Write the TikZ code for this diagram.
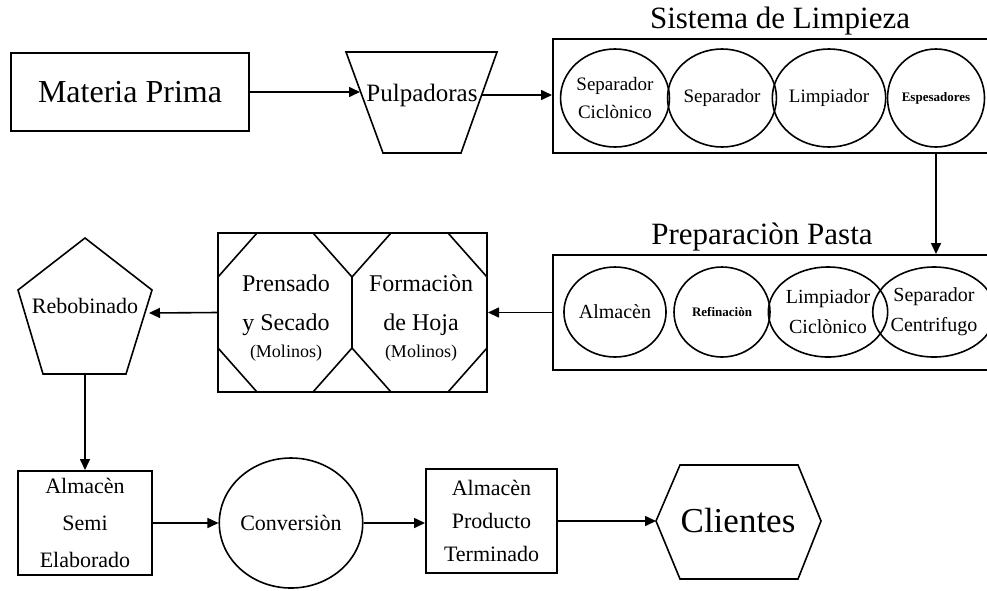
\documentclass[tikz,border=0pt]{standalone}
\usepackage{fontspec}
\setmainfont{Liberation Serif}
\usetikzlibrary{arrows.meta,shapes.geometric,calc}
\def\fs#1#2{\fontsize{#1}{#2}\selectfont}
% octagon inside the mill box: centre, half width, half height, cut
\def\octagon(#1)(#2:#3:#4:#5){\draw[line width=1.6pt] ($(#1)+(-#2+#4,-#3)$) -- ($(#1)+(#2-#4,-#3)$) -- ($(#1)+(#2,-#3+#5)$) -- ($(#1)+(#2,#3-#5)$) -- ($(#1)+(#2-#4,#3)$) -- ($(#1)+(-#2+#4,#3)$) -- ($(#1)+(-#2,#3-#5)$) -- ($(#1)+(-#2,-#3+#5)$) -- cycle;}
\tikzset{
  box/.style={draw, line width=2pt, rectangle, align=center, inner sep=0pt},
  elli/.style={draw, line width=1.6pt, ellipse, align=center, inner sep=0pt},
  outline/.style={draw, line width=1.6pt},
  flow/.style={line width=1.6pt, -{Triangle[length=11pt,width=10pt]}},
}
\begin{document}
\begin{tikzpicture}[x=1pt, y=-1pt]
		\useasboundingbox (0,0) rectangle (987,590);
		
		%%%%% ROW 1 %%%%%
		\node[box, minimum width=238pt, minimum height=78pt, font=\fs{32}{36}] (mp) at (130,92) {Materia Prima};
		
		\draw[outline] (346,52) -- (497,52) -- (461,153) -- (383,153) -- cycle;
		\node[font=\fs{25}{28}] (pulp) at (422,95) {Pulpadoras};
		\coordinate (pulpin) at (360,92);
		\coordinate (pulpout) at (482,95);
		
		\node[box, minimum width=447pt, minimum height=114pt] (limp) at (776.5,96) {};
		\node[font=\fs{31}{34}] (limptitle) at (780,21) {Sistema de Limpieza};
		
		\node[elli, minimum width=97pt, minimum height=98pt, font=\fs{19}{28}] (sl1) at (615,98) {Separador\\Ciclònico};
		\node[elli, minimum width=97pt, minimum height=98pt, font=\fs{19}{28}] (sl2) at (722,98) {Separador};
		\node[elli, minimum width=97pt, minimum height=98pt, font=\fs{19}{28}] (sl3) at (829,98) {Limpiador};
		\node[elli, minimum width=97pt, minimum height=98pt, font=\bfseries\fs{13}{16}] (sl4) at (936,98) {Espesadores};
		
		%%%%% ROW 2 %%%%%
		\node[font=\fs{31}{34}] (preptitle) at (762,237) {Preparaciòn Pasta};
		\node[box, minimum width=447pt, minimum height=115pt] (prep) at (776.5,312.5) {};
		\node[elli, minimum width=96pt, minimum height=90pt, font=\fs{20}{27}] (pp1) at (615,312) {Almacèn};
		\node[elli, minimum width=96pt, minimum height=90pt, font=\bfseries\fs{13}{16}] (pp2) at (722,312) {Refinaciòn};
		\node[elli, minimum width=96pt, minimum height=90pt, font=\fs{20}{30}] (pp3) at (828,312) {Limpiador\\Ciclònico};
		\node[elli, minimum width=96pt, minimum height=90pt, font=\fs{20}{30}] (pp4) at (934,312) {Separador\\Centrifugo};
		
		\node[box, minimum width=269pt, minimum height=159pt] (mol) at (352.5,312.5) {};
		\octagon(285,312.5)(67:79.5:39:44)
		\octagon(419.5,312.5)(67.5:79.5:39:44)
		\node[align=center, font=\fs{24}{39}] (pren) at (286,318) {Prensado\\y Secado\\[-12pt]{\fs{18}{20}(Molinos)}};
		\node[align=center, font=\fs{24}{39}] (form) at (421,318) {Formaciòn\\de Hoja\\[-12pt]{\fs{18}{20}(Molinos)}};
		
		\draw[outline] (85,238) -- (152,290) -- (126,374) -- (43,374) -- (18,290) -- cycle;
		\node[font=\fs{22}{24}] (reb) at (85,306) {Rebobinado};
		\coordinate (rebright) at (149,313);
		\coordinate (rebbottom) at (85,374);
		
		%%%%% ROW 3 %%%%%
		\node[box, minimum width=134pt, minimum height=104pt, font=\fs{22}{37}] (semi) at (85,523) {Almacèn\\Semi\\Elaborado};
		\node[elli, minimum width=114pt, minimum height=130pt, font=\fs{22}{26}] (conv) at (291,523) {Conversiòn};
		\node[box, minimum width=131pt, minimum height=104pt, font=\fs{22}{33}] (term) at (491.5,521) {Almacèn\\Producto\\Terminado};
		\node[font=\fs{35}{38}] (cli) at (738,521) {Clientes};
		\coordinate (clileft) at (656,521);
		\draw[outline] (clileft) -- (680,465) -- (798,465) -- (821,521) -- (798,579) -- (680,579) -- cycle;
		
		%%%%% ARROWS %%%%%
		\draw[flow] (mp.east) -- (pulpin);
		\draw[flow] (pulpout) -- (pulpout -| limp.west);
		\draw[flow] (limp.south -| sl4) -- (prep.north -| sl4);
		\draw[flow] (prep.west) -- (mol.east);
		\draw[flow] (mol.west) -- (rebright);
		\draw[flow] (rebbottom) -- (semi.north);
		\draw[flow] (semi.east) -- (semi.east -| conv.west);
		\draw[flow] (conv.east) -- (conv.east -| term.west);
		\draw[flow] (term.east) -- (term.east -| clileft);
		
	\end{tikzpicture}
\end{document}
